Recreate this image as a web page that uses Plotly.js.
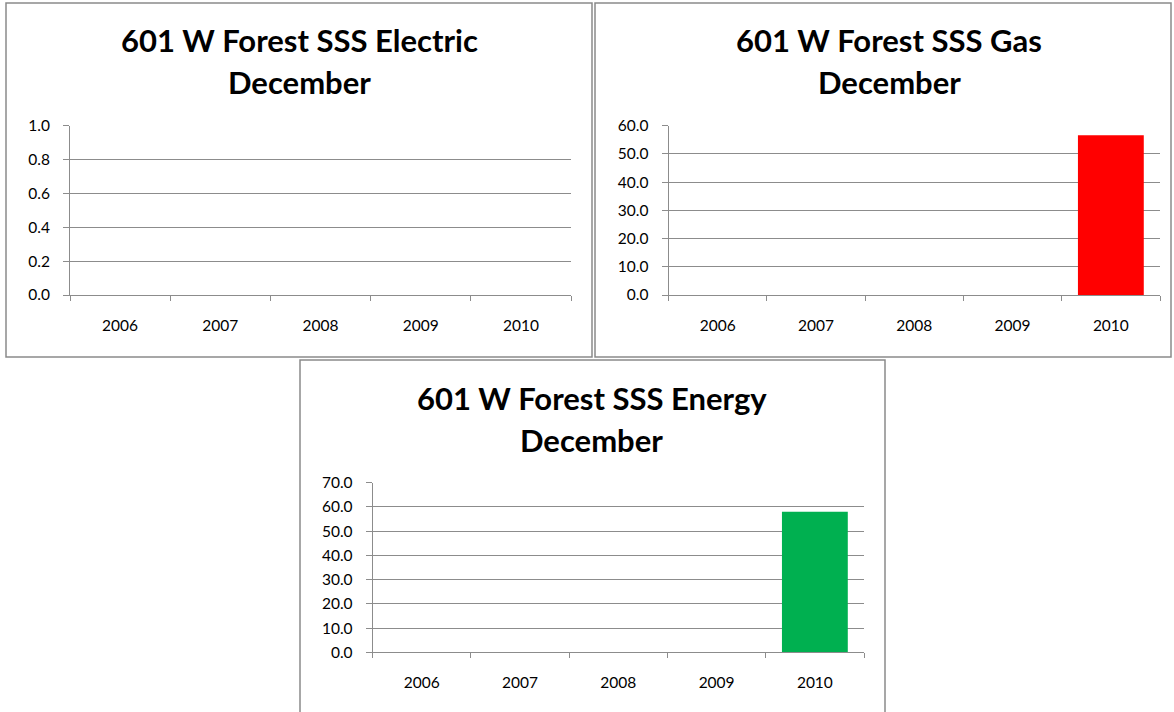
<!DOCTYPE html>
<html>
<head>
<meta charset="utf-8">
<script src="https://cdn.plot.ly/plotly-3.0.1.min.js"></script>
<style>
html,body{margin:0;padding:0;background:#fff;}
#chart{width:1174px;height:712px;}
</style>
</head>
<body>
<div id="chart"></div>
<script>
// ---- data ----
const years = ["2006", "2007", "2008", "2009", "2010"];
const electricValues = [0, 0, 0, 0, 0];
const gasValues = [0, 0, 0, 0, 56.6];
const energyValues = [0, 0, 0, 0, 58.0];
const titleLine1 = ["601 W Forest SSS Electric", "601 W Forest SSS Gas", "601 W Forest SSS Energy"];
const titleLine2 = "December";
const yRanges = [[0, 1], [0, 60], [0, 70]];
const yDticks = [0.2, 10, 10];

// ---- layout helpers ----
const W = 1174, H = 712;
const px = v => v / W;
const py = v => 1 - v / H;
const FONT = "Lato, 'Open Sans', sans-serif";
const gridCol = "#8c8c8c";

// plot areas in pixels [x0, x1, y0(top), y1(bottom)]
const areas = [
  [70, 571, 125.7, 295],
  [668.6, 1160, 125.7, 295],
  [372.7, 864, 482.7, 652.3]
];
// chart boxes [x0, x1, y0, y1]
const boxes = [
  [6, 592, 3, 357],
  [595, 1171, 3, 357],
  [300, 885, 360, 714]
];
const titleCenters = [[299, 40, 82], [889, 40, 82], [592, 398, 440]];

const colors = ["#4f81bd", "#ff0000", "#00b050"];
const series = [electricValues, gasValues, energyValues];

const traces = series.map((vals, i) => ({
  type: "bar",
  x: years,
  y: vals,
  marker: {color: colors[i], line: {width: 0}},
  xaxis: i === 0 ? "x" : "x" + (i + 1),
  yaxis: i === 0 ? "y" : "y" + (i + 1),
  hoverinfo: "x+y",
  showlegend: false
}));

const layout = {
  width: W, height: H,
  margin: {l: 0, r: 0, t: 0, b: 0},
  paper_bgcolor: "#fff",
  plot_bgcolor: "#fff",
  bargap: 0.33,
  showlegend: false,
  font: {family: FONT, size: 15.5, color: "#000"},
  shapes: [],
  annotations: []
};

areas.forEach((a, i) => {
  const xa = i === 0 ? "xaxis" : "xaxis" + (i + 1);
  const ya = i === 0 ? "yaxis" : "yaxis" + (i + 1);
  const yname = i === 0 ? "y" : "y" + (i + 1);
  const xname = i === 0 ? "x" : "x" + (i + 1);
  layout[xa] = {
    domain: [px(a[0]), px(a[1])],
    anchor: yname,
    type: "category",
    showline: true, linecolor: gridCol, linewidth: 1,
    ticks: "outside", tickson: "boundaries", ticklen: 5, tickcolor: gridCol,
    showgrid: false, zeroline: false,
    tickfont: {family: FONT, size: 15.5, color: "#000"},
    ticklabelstandoff: 16,
    fixedrange: true
  };
  layout[ya] = {
    domain: [py(a[3]), py(a[2])],
    anchor: xname,
    range: yRanges[i],
    dtick: yDticks[i],
    tick0: 0,
    tickformat: ".1f",
    showline: true, linecolor: gridCol, linewidth: 1,
    ticks: "outside", ticklen: 6, tickcolor: gridCol,
    showgrid: true, gridcolor: gridCol, gridwidth: 1,
    zeroline: false,
    tickfont: {family: FONT, size: 15.5, color: "#000"},
    ticklabelstandoff: 10,
    fixedrange: true
  };
  const b = boxes[i];
  layout.shapes.push({
    type: "rect", xref: "paper", yref: "paper",
    x0: px(b[0]), x1: px(b[1]), y0: py(b[3]), y1: py(b[2]),
    line: {color: "#8a8a8a", width: 1.5}, fillcolor: "rgba(0,0,0,0)", layer: "below"
  });
  const t = titleCenters[i];
  layout.annotations.push({
    xref: "paper", yref: "paper", x: px(t[0]), y: py(t[1]),
    xanchor: "center", yanchor: "middle", showarrow: false,
    text: "<b>" + titleLine1[i] + "</b>",
    font: {family: FONT, size: 31, color: "#000"}
  });
  layout.annotations.push({
    xref: "paper", yref: "paper", x: px(t[0]), y: py(t[2]),
    xanchor: "center", yanchor: "middle", showarrow: false,
    text: "<b>" + titleLine2 + "</b>",
    font: {family: FONT, size: 31, color: "#000"}
  });
});

Plotly.newPlot("chart", traces, layout, {displayModeBar: false, staticPlot: true});
</script>
</body>
</html>
